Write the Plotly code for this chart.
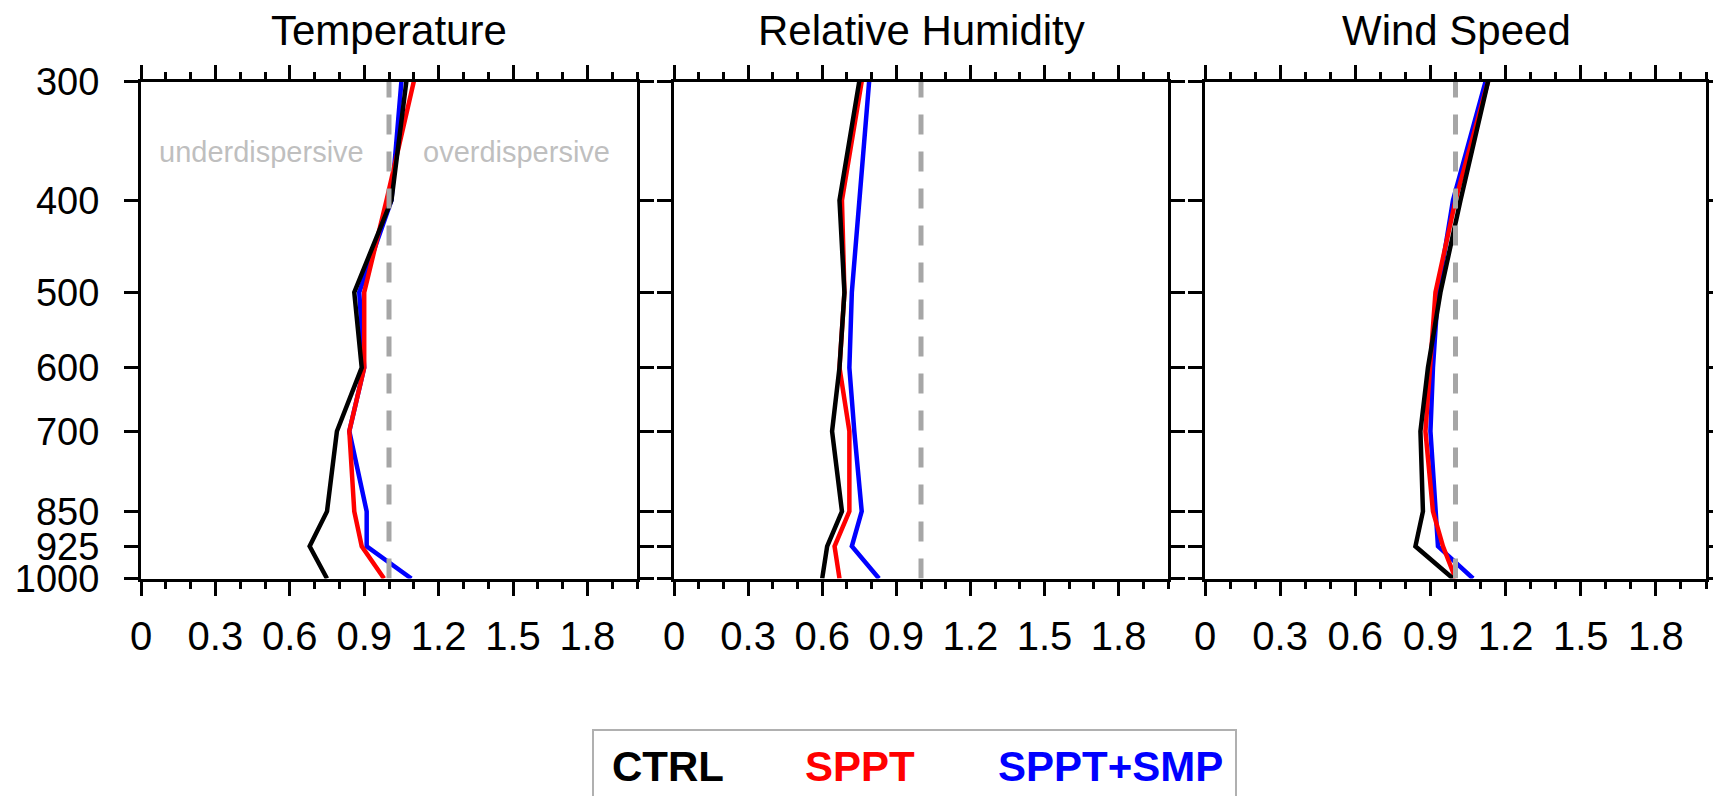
import math
import plotly.graph_objects as go

# ---------------- data ----------------
levels = [300, 400, 500, 600, 700, 850, 925, 1000]
level_labels = ["300", "400", "500", "600", "700", "850", "925", "1000"]
panel_titles = ["Temperature", "Relative Humidity", "Wind Speed"]
series_names = ["CTRL", "SPPT", "SPPT+SMP"]
series_colors = ["#000000", "#ff0000", "#0000ff"]

temp_ctrl = [1.07, 1.01, 0.86, 0.89, 0.79, 0.75, 0.68, 0.75]
temp_sppt = [1.10, 0.99, 0.90, 0.90, 0.84, 0.86, 0.89, 0.98]
temp_smp = [1.05, 1.01, 0.88, 0.90, 0.84, 0.91, 0.91, 1.09]

rh_ctrl = [0.75, 0.67, 0.69, 0.67, 0.64, 0.68, 0.62, 0.60]
rh_sppt = [0.76, 0.68, 0.69, 0.67, 0.71, 0.71, 0.65, 0.67]
rh_smp = [0.79, 0.75, 0.72, 0.71, 0.73, 0.76, 0.72, 0.83]

ws_ctrl = [1.13, 1.02, 0.94, 0.89, 0.86, 0.87, 0.84, 0.99]
ws_sppt = [1.13, 1.00, 0.92, 0.90, 0.88, 0.91, 0.95, 1.00]
ws_smp = [1.12, 0.99, 0.93, 0.91, 0.90, 0.92, 0.93, 1.07]

ref_x = [1.0, 1.0]
ref_p = [1000, 300]
x_range = [0, 2.0]

panels = [
    [temp_ctrl, temp_sppt, temp_smp],
    [rh_ctrl, rh_sppt, rh_smp],
    [ws_ctrl, ws_sppt, ws_smp],
]

# ---------------- figure ----------------
W, H = 1713, 796
FONT = "Liberation Sans, Arial, Helvetica, sans-serif"
x_domains = [[141 / W, 637 / W], [674 / W, 1168 / W], [1205 / W, 1706 / W]]
y_domain = [1 - 578.5 / H, 1 - 81.5 / H]

fig = go.Figure()

for i, data in enumerate(panels):
    xa = "x" if i == 0 else f"x{i+1}"
    ya = "y" if i == 0 else f"y{i+1}"
    # draw order: blue, red, black (black on top)
    for k in [2, 1, 0]:
        fig.add_trace(go.Scatter(
            x=data[k], y=levels, mode="lines",
            line=dict(color=series_colors[k], width=4.5),
            name=series_names[k], showlegend=False,
            xaxis=xa, yaxis=ya, hoverinfo="skip"))
    fig.add_trace(go.Scatter(
        x=ref_x, y=ref_p, mode="lines",
        line=dict(color="#a6a6a6", width=5, dash="20px,17px"),
        showlegend=False, xaxis=xa, yaxis=ya, hoverinfo="skip"))

axis_common = dict(
    showline=True, linecolor="black", linewidth=3, mirror="ticks",
    ticks="outside", ticklen=14, tickwidth=3, tickcolor="black",
    showgrid=False, zeroline=False, automargin=False,
)

layout = dict(
    width=W, height=H,
    margin=dict(l=0, r=0, t=0, b=0, autoexpand=False),
    paper_bgcolor="white", plot_bgcolor="white",
    showlegend=False,
)

for i in range(3):
    xkey = "xaxis" if i == 0 else f"xaxis{i+1}"
    ykey = "yaxis" if i == 0 else f"yaxis{i+1}"
    anchor_y = "y" if i == 0 else f"y{i+1}"
    anchor_x = "x" if i == 0 else f"x{i+1}"
    layout[xkey] = dict(
        axis_common, domain=x_domains[i], anchor=anchor_y,
        range=x_range, tickmode="linear", tick0=0, dtick=0.3,
        ticklabelstandoff=6,
        tickfont=dict(family=FONT, size=40, color="black"),
        minor=dict(tickmode="linear", tick0=0, dtick=0.1, ticks="outside",
                   ticklen=7, tickwidth=2.5, tickcolor="black", showgrid=False),
    )
    layout[ykey] = dict(
        axis_common, domain=y_domain, anchor=anchor_x, type="log",
        range=[math.log10(max(levels)), math.log10(min(levels))],
        tickmode="array", tickvals=levels, ticktext=level_labels,
        tickfont=dict(family=FONT, size=38, color="black"),
        showticklabels=(i == 0), ticklabelstandoff=17,
    )

fig.update_layout(**layout)

annotations = []
title_centers = [389 / W, 921 / W, 1456 / W]
for i, t in enumerate(panel_titles):
    annotations.append(dict(
        text=t, x=title_centers[i], y=1 - 31 / H, xref="paper", yref="paper",
        xanchor="center", yanchor="middle", showarrow=False,
        font=dict(family=FONT, size=42, color="black")))

p_label = 355.6
annotations.append(dict(
    text="underdispersive", x=0.486, y=math.log10(p_label), xref="x", yref="y",
    xanchor="center", yanchor="middle", showarrow=False,
    font=dict(family=FONT, size=29, color="#bfbfbf")))
annotations.append(dict(
    text="overdispersive", x=1.514, y=math.log10(p_label), xref="x", yref="y",
    xanchor="center", yanchor="middle", showarrow=False,
    font=dict(family=FONT, size=29, color="#bfbfbf")))

legend_centers = [668 / W, 860 / W, 1110 / W]
for k, name in enumerate(series_names):
    annotations.append(dict(
        text=f"<b>{name}</b>", x=legend_centers[k], y=1 - 766 / H,
        xref="paper", yref="paper", xanchor="center", yanchor="middle",
        showarrow=False,
        font=dict(family=FONT, size=42, color=series_colors[k])))

fig.update_layout(annotations=annotations)
fig.add_shape(type="rect", xref="paper", yref="paper",
              x0=593 / W, x1=1236 / W, y0=1 - 730 / H, y1=-0.05,
              line=dict(color="#b0b0b0", width=2), fillcolor="rgba(0,0,0,0)")

fig.write_html("out.html", include_plotlyjs=True,
               config={"displayModeBar": False},
               post_script="document.body.style.margin='0';document.body.style.overflow='hidden';")
